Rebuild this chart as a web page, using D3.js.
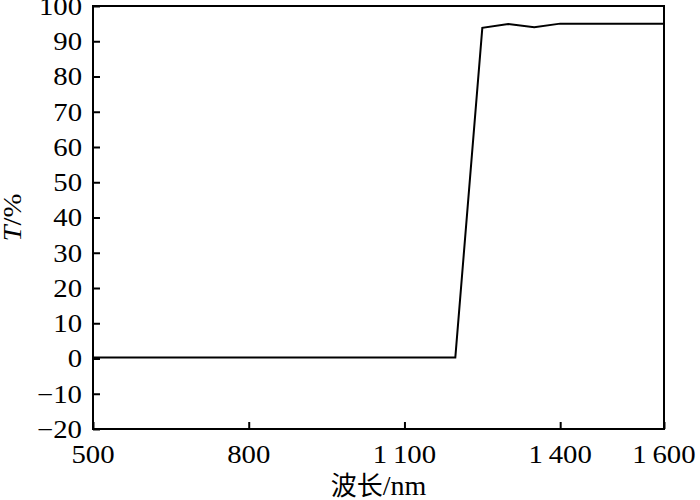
<!DOCTYPE html>
<html><head><meta charset="utf-8">
<script src="https://cdn.jsdelivr.net/npm/d3@7/dist/d3.min.js"></script>
<style>body{margin:0;background:#fff}svg{display:block}</style>
</head><body>
<svg id="c" width="700" height="500"></svg>
<script>
const wavelength = [500, 1198, 1250, 1300, 1350, 1400, 1600];
const transmittance = [0.3, 0.3, 93.8, 94.9, 94, 95, 95];
const xTicks = [500, 800, 1100, 1400, 1600];
const xTickLabels = ["500", "800", "1\u2009100", "1\u2009400", "1\u2009600"];
const yTicks = [-20, -10, 0, 10, 20, 30, 40, 50, 60, 70, 80, 90, 100];

const svg = d3.select("#c");
const L = 93, R = 664, T = 6, B = 429;
const x = d3.scaleLinear().domain([500, 1600]).range([L, R]);
const y = d3.scaleLinear().domain([-20, 100]).range([B, T]);
const font = "'Liberation Serif','Times New Roman',serif";
const SX = 1.15;

// frame
svg.append("rect").attr("x", L).attr("y", T).attr("width", R - L).attr("height", B - T)
  .attr("fill", "none").attr("stroke", "#000").attr("stroke-width", 2);

// y axis
const ya = svg.append("g").attr("transform", `translate(${L},0)`)
  .call(d3.axisRight(y).tickValues(yTicks).tickSize(7).tickFormat(""));
ya.select(".domain").remove();
ya.selectAll("line").attr("stroke", "#000").attr("stroke-width", 2);
svg.append("g").selectAll("text").data(yTicks).join("text")
  .attr("transform", d => `translate(${L - 11},${y(d)}) scale(${SX},1)`)
  .attr("dy", "0.35em")
  .attr("text-anchor", "end").attr("font-family", font).attr("font-size", 25)
  .text(d => d < 0 ? "\u2212" + Math.abs(d) : d);

// x axis
const xa = svg.append("g").attr("transform", `translate(0,${B})`)
  .call(d3.axisTop(x).tickValues(xTicks).tickSize(7).tickFormat(""));
xa.select(".domain").remove();
xa.selectAll("line").attr("stroke", "#000").attr("stroke-width", 2);
svg.append("g").selectAll("text").data(xTicks).join("text")
  .attr("transform", d => `translate(${x(d)},463) scale(${SX},1)`)
  .attr("text-anchor", "middle").attr("font-family", font).attr("font-size", 25)
  .text((d, i) => xTickLabels[i]);

// titles
const xt = svg.append("text").attr("transform", `translate(${(L + R) / 2},495)`).attr("text-anchor", "middle");
xt.append("tspan").attr("font-family", "'Noto Sans CJK SC', serif").attr("font-size", 26).text("波长");
xt.append("tspan").attr("font-family", font).attr("font-size", 28).text("/nm");
svg.append("text").attr("transform", `translate(21,${(T + B) / 2}) rotate(-90) scale(${SX},1)`)
  .attr("text-anchor", "middle").attr("font-family", font).attr("font-size", 25)
  .call(t => { t.append("tspan").attr("font-style", "italic").text("T"); t.append("tspan").text("/%"); });

// data line
svg.append("path").datum(wavelength.map((w, i) => [w, transmittance[i]]))
  .attr("fill", "none").attr("stroke", "#000").attr("stroke-width", 2)
  .attr("d", d3.line().x(d => x(d[0])).y(d => y(d[1])));
</script>
</body></html>
